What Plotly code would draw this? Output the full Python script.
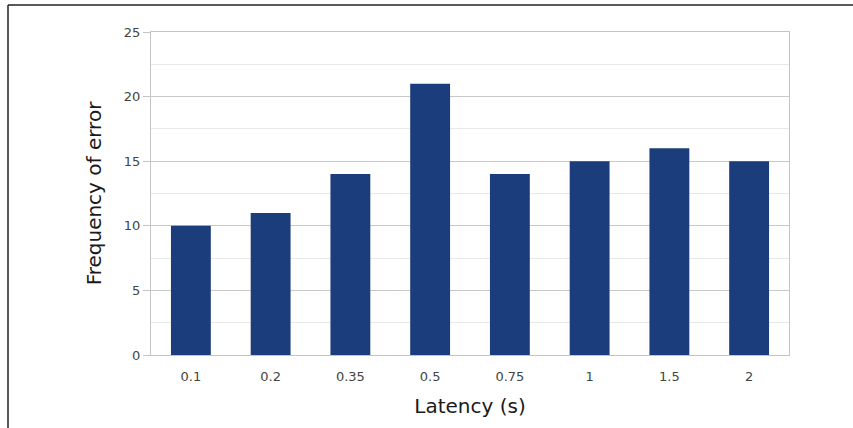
import plotly.graph_objects as go

categories = ["0.1", "0.2", "0.35", "0.5", "0.75", "1", "1.5", "2"]
frequency = [10, 11, 14, 21, 14, 15, 16, 15]
y_ticks = [0, 5, 10, 15, 20, 25]

fig = go.Figure(go.Bar(x=categories, y=frequency, marker=dict(color="#1b3d7b", line=dict(width=0))))

W, H = 853, 428
L, R, T, B = 151, 64, 32, 73
pw, ph = W - L - R, H - T - B
bx, by = 8, 5  # outer frame pixel offsets

fig.update_layout(
    width=W, height=H,
    margin=dict(l=L, r=R, t=T, b=B),
    paper_bgcolor="white", plot_bgcolor="white",
    bargap=0.5,
    showlegend=False,
    font=dict(family="DejaVu Sans", color="#444444"),
    xaxis=dict(
        type="category",
        showline=True, linecolor="#c4c4c4", linewidth=1, mirror=True,
        ticks="outside", ticklen=9, tickcolor="rgba(0,0,0,0)",
        tickfont=dict(size=13, color="#444444"),
        title=dict(text="Latency (s)", font=dict(size=20, color="#1a1a1a"), standoff=16),
    ),
    yaxis=dict(
        range=[0, 25], tickvals=y_ticks,
        showline=True, linecolor="#c4c4c4", linewidth=1, mirror=True,
        ticks="outside", ticklen=7, tickcolor="#c4c4c4",
        showgrid=True, gridcolor="#c9c9c9", gridwidth=1,
        minor=dict(dtick=2.5, showgrid=True, gridcolor="#e8e8e8", ticks=""),
        zeroline=False,
        tickfont=dict(size=13, color="#444444"),
        title=dict(text="Frequency of error", font=dict(size=20, color="#1a1a1a"), standoff=16),
    ),
    shapes=[
        dict(type="line", xref="paper", yref="paper",
             x0=(bx - L) / pw, x1=(bx - L) / pw, y0=(H - B - by) / ph, y1=-B / ph,
             line=dict(color="#222222", width=1.5)),
        dict(type="line", xref="paper", yref="paper",
             x0=(bx - L) / pw, x1=(W - L) / pw, y0=(H - B - by) / ph, y1=(H - B - by) / ph,
             line=dict(color="#222222", width=1.5)),
    ],
)

fig.write_html("out.html", config={"displayModeBar": False})

with open("out.html", "r", encoding="utf-8") as f:
    html = f.read()
html = html.replace("<body>", '<body style="margin:0;padding:0;overflow:hidden;">', 1)
with open("out.html", "w", encoding="utf-8") as f:
    f.write(html)
